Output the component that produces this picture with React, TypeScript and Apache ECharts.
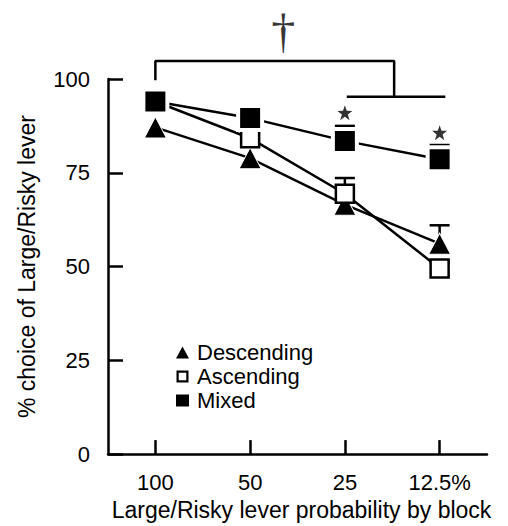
import React, { useEffect, useRef } from "react";
import * as echarts from "echarts";

const categories = ["100", "50", "25", "12.5%"];
const descending = [87.1, 78.9, 66.5, 56.1];
const ascending = [94.0, 84.2, 69.4, 49.5];
const mixed = [94.0, 89.6, 83.5, 78.6];
const descendingErr = [0, 0, 0, 4.9];
const ascendingErr = [1.5, 1.5, 4.2, 1.5];
const mixedErr = [1.5, 1.5, 4.0, 3.8];
const yTicks = [0, 25, 50, 75, 100];
// significance annotations
const starPoints = [[2, 91.0], [3, 85.7]];
const bracketMain = [[0, 99.7], [0, 104.8], [2.52, 104.8], [2.52, 95.3]];
const bracketSub = [[2.02, 95.3], [3.06, 95.3]];
const daggerPoint = [[1.35, 112.8]];

const FONT = "'Liberation Sans', Arial, sans-serif";
const STAR = "path://M50,0 L62,34 L98,35 L69,57 L80,92 L50,71 L20,92 L31,57 L2,35 L38,34 Z";
const OPEN_SQUARE = "path://M0,0 H12 V12 H0 Z M2.2,2.2 V9.8 H9.8 V2.2 Z";

function errData(vals: number[], errs: number[]) {
  return vals.map((v, i) => [i, v, v + errs[i]]);
}

const errSeries = (name: string, vals: number[], errs: number[]) => ({
  type: "custom",
  name: name + " err",
  z: 1,
  silent: true,
  data: errData(vals, errs),
  renderItem: (params: any, api: any) => {
    const x = api.value(0);
    if (api.value(2) <= api.value(1)) return { type: "group", children: [] };
    const base = api.coord([x, api.value(1)]);
    const top = api.coord([x, api.value(2)]);
    const half = 10;
    return {
      type: "group",
      children: [
        { type: "line", shape: { x1: base[0], y1: base[1], x2: top[0], y2: top[1] }, style: { stroke: "#000", lineWidth: 2.5 } },
        { type: "line", shape: { x1: top[0] - half, y1: top[1], x2: top[0] + half, y2: top[1] }, style: { stroke: "#000", lineWidth: 2.5 } },
      ],
    };
  },
});

export default function App() {
  const ref = useRef<HTMLDivElement>(null);
  useEffect(() => {
    if (!ref.current) return;
    const chart = echarts.init(ref.current, undefined, { renderer: "svg" });
    chart.setOption({
      animation: false,
      backgroundColor: "#fff",
      textStyle: { fontFamily: FONT, color: "#000" },
      grid: { left: 108, right: 21, top: 79, bottom: 71 },
      legend: {
        orient: "vertical",
        left: 171,
        top: 336,
        itemWidth: 13,
        itemHeight: 12,
        itemGap: 1,
        data: [
          { name: "Descending", icon: "triangle", itemStyle: { color: "#000", borderWidth: 0 } },
          { name: "Ascending", icon: OPEN_SQUARE, itemStyle: { color: "#000", borderWidth: 0 } },
          { name: "Mixed", icon: "rect", itemStyle: { color: "#000", borderWidth: 0 } },
        ],
        textStyle: { fontSize: 22, color: "#000", fontFamily: FONT, lineHeight: 23, padding: [0, 0, 0, 3] },
      },
      xAxis: [
        {
          type: "category",
          data: categories,
          boundaryGap: true,
          axisLine: { show: true, lineStyle: { color: "#000", width: 2.5 } },
          axisTick: { show: true, inside: true, alignWithLabel: true, length: 14, lineStyle: { color: "#000", width: 2.5 } },
          axisLabel: { fontSize: 22, color: "#000", margin: 17, fontFamily: FONT },
          name: "Large/Risky lever probability by block",
          nameLocation: "middle",
          nameGap: 38,
          nameTextStyle: { fontSize: 23, color: "#000", fontFamily: FONT, padding: [0, 0, 0, 8] },
          splitLine: { show: false },
        },
        { type: "value", min: -0.5, max: 3.5, show: false },
      ],
      yAxis: {
        type: "value",
        min: yTicks[0],
        max: yTicks[yTicks.length - 1],
        interval: 25,
        axisLine: { show: true, onZero: false, lineStyle: { color: "#000", width: 2.5 } },
        axisTick: { show: true, inside: true, length: 15, lineStyle: { color: "#000", width: 2.5 } },
        axisLabel: { fontSize: 22, color: "#000", margin: 18, fontFamily: FONT },
        splitLine: { show: false },
        name: "% choice of Large/Risky lever",
        nameLocation: "middle",
        nameGap: 70,
        nameTextStyle: { fontSize: 23, color: "#000", fontFamily: FONT },
      },
      series: [
        errSeries("Descending", descending, descendingErr),
        errSeries("Ascending", ascending, ascendingErr),
        errSeries("Mixed", mixed, mixedErr),
        {
          type: "line",
          name: "Descending",
          data: descending,
          z: 3,
          symbol: "triangle",
          symbolSize: [22, 21],
          lineStyle: { color: "#000", width: 2.5 },
          itemStyle: { color: "#000", borderColor: "#fff", borderWidth: 1 },
        },
        {
          type: "line",
          name: "Ascending",
          data: ascending,
          z: 4,
          symbol: "rect",
          symbolSize: 18,
          lineStyle: { color: "#000", width: 2.5 },
          itemStyle: { color: "#fff", borderColor: "#000", borderWidth: 2.5 },
        },
        {
          type: "line",
          name: "Mixed",
          data: mixed,
          z: 5,
          symbol: "rect",
          symbolSize: 24,
          lineStyle: { color: "#000", width: 2.5 },
          itemStyle: { color: "#000", borderColor: "#fff", borderWidth: 4 },
        },
        {
          type: "scatter",
          name: "stars",
          data: starPoints,
          symbol: STAR,
          symbolSize: 15,
          itemStyle: { color: "#000" },
          clip: false,
          silent: true,
        },
        {
          type: "line",
          name: "bracket1",
          xAxisIndex: 1,
          data: bracketMain,
          symbol: "none",
          clip: false,
          silent: true,
          lineStyle: { color: "#000", width: 2.5 },
        },
        {
          type: "line",
          name: "bracket2",
          xAxisIndex: 1,
          data: bracketSub,
          symbol: "none",
          clip: false,
          silent: true,
          lineStyle: { color: "#000", width: 2.5 },
        },
        {
          type: "scatter",
          name: "dagger",
          xAxisIndex: 1,
          data: daggerPoint,
          symbolSize: 1,
          itemStyle: { color: "rgba(0,0,0,0)" },
          clip: false,
          silent: true,
          label: { show: true, position: "inside", formatter: "\u2020", fontSize: 48, color: "#000", fontFamily: "'Liberation Serif', serif" },
        },
      ],
    });
    return () => chart.dispose();
  }, []);
  return <div ref={ref} style={{ position: "fixed", left: 0, top: 0, width: 508, height: 526 }} />;
}
